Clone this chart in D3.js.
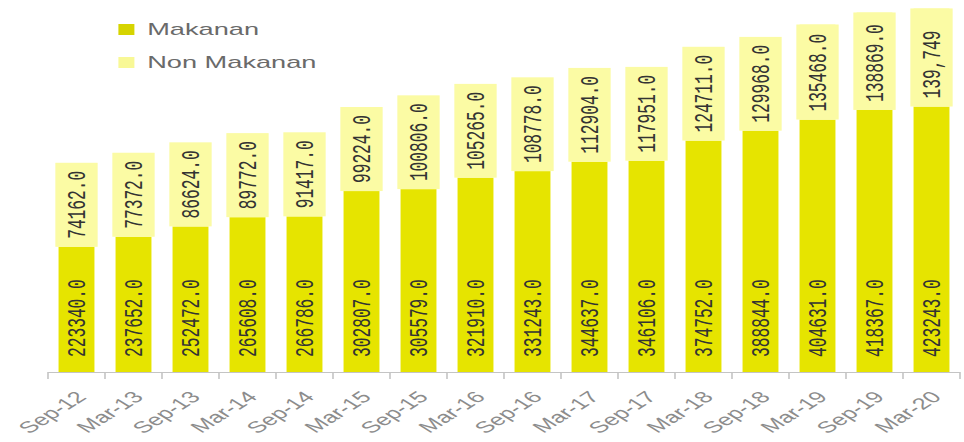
<!DOCTYPE html>
<html>
<head>
<meta charset="utf-8">
<script src="https://cdn.jsdelivr.net/npm/d3@7"></script>
<style>
  html, body { margin: 0; padding: 0; background: #ffffff; }
  svg { display: block; }
</style>
</head>
<body>
<svg id="chart" width="964" height="442"></svg>
<script>
// Periods (half-yearly)
const categories = ["Sep-12", "Mar-13", "Sep-13", "Mar-14", "Sep-14", "Mar-15", "Sep-15", "Mar-16",
                    "Sep-16", "Mar-17", "Sep-17", "Mar-18", "Sep-18", "Mar-19", "Sep-19", "Mar-20"];

// Food expenditure
const makanan = [223340, 237652, 252472, 265608, 266786, 302807, 305579, 321910,
                 331243, 344637, 346106, 374752, 388844, 404631, 418367, 423243];

// Non-food expenditure
const nonMakanan = [74162, 77372, 86624, 89772, 91417, 99224, 100806, 105265,
                    108778, 112904, 117951, 124711, 129968, 135468, 138869, 139749];

const seriesNames = ["Makanan", "Non Makanan"];

// The drawing is laid out in a narrower coordinate space and widened to the page.
const pageW = 964, pageH = 442, stretch = 1.6;
const W = pageW / stretch;

const svg = d3.select("#chart")
  .attr("viewBox", `0 0 ${W} ${pageH}`)
  .attr("preserveAspectRatio", "none");

const colDark = "#e6e400";
const colLight = "#fbfba4";

const x = d3.scaleBand()
  .domain(categories)
  .range([30, 600])
  .paddingInner(0.37)
  .paddingOuter(0.185);

const y = d3.scaleLinear()
  .domain([45000, 575000])
  .range([372, 0]);

const rows = categories.map((c, i) => ({
  cat: c,
  m: makanan[i],
  n: nonMakanan[i],
  nLabel: i === categories.length - 1 ? d3.format(",")(nonMakanan[i]) : d3.format(".1f")(nonMakanan[i]),
  mLabel: d3.format(".1f")(makanan[i])
}));

const stack = d3.stack().keys(["m", "n"])(rows);

// Stacked bars
svg.append("g").selectAll("g")
  .data(stack)
  .join("g")
  .attr("fill", (d, i) => i === 0 ? colDark : colLight)
  .selectAll("rect")
  .data(d => d)
  .join("rect")
  .attr("x", d => x(d.data.cat))
  .attr("width", x.bandwidth())
  .attr("y", d => y(d[1]))
  .attr("height", d => y(Math.max(d[0], y.domain()[0])) - y(d[1]));

// Axis line and boundary ticks
const step = x.step();
const x0 = x.range()[0];
const axis = svg.append("g").attr("stroke", "#c4c4c4").attr("stroke-width", 1);
axis.append("line")
  .attr("x1", x0).attr("x2", x.range()[1])
  .attr("y1", y.range()[0] + 0.5).attr("y2", y.range()[0] + 0.5);
axis.selectAll("line.tick")
  .data(d3.range(categories.length + 1))
  .join("line")
  .attr("class", "tick")
  .attr("x1", i => x0 + i * step).attr("x2", i => x0 + i * step)
  .attr("y1", y.range()[0]).attr("y2", y.range()[0] + 7);

// Category labels
svg.append("g").selectAll("text")
  .data(categories)
  .join("text")
  .attr("transform", d => `translate(${x(d) + x.bandwidth() / 2 + 3},${y.range()[0] + 22}) rotate(-45)`)
  .attr("text-anchor", "end")
  .attr("dy", "0.35em")
  .attr("font-family", "Liberation Sans, Arial, sans-serif")
  .attr("font-size", 16)
  .attr("fill", "#8c8c8c")
  .text(d => d);

// Value labels
const labelFont = "Liberation Mono, monospace";
const labelSize = 16.2;
const labelG = svg.append("g");

// Non Makanan labels: boxed, anchored at the base of the segment;
// the box covers the segment and the text, whichever is taller
const nl = labelG.selectAll("g.nl")
  .data(rows)
  .join("g")
  .attr("class", "nl");
nl.each(function(d) {
  const g = d3.select(this);
  const cx = x(d.cat) + x.bandwidth() / 2;
  const base = y(d.m);
  const top = y(d.m + d.n);
  const t = g.append("text")
    .attr("font-family", labelFont)
    .attr("font-size", labelSize)
    .attr("fill", "#333333")
    .attr("text-anchor", "start")
    .attr("dy", "0.33em")
    .attr("transform", `translate(${cx},${base - 8}) rotate(-90)`)
    .text(d.nLabel);
  const len = t.node().getComputedTextLength();
  const boxTop = Math.min(top, base - len - 16);
  g.insert("rect", "text")
    .attr("x", x(d.cat) - 2)
    .attr("width", x.bandwidth() + 4)
    .attr("y", boxTop)
    .attr("height", base - boxTop)
    .attr("fill", colLight);
});

// Makanan labels: inside the base of each bar
labelG.selectAll("text.ml")
  .data(rows)
  .join("text")
  .attr("class", "ml")
  .attr("font-family", labelFont)
  .attr("font-size", labelSize)
  .attr("fill", "#333333")
  .attr("text-anchor", "start")
  .attr("dy", "0.33em")
  .attr("transform", d => `translate(${x(d.cat) + x.bandwidth() / 2},${y.range()[0] - 15}) rotate(-90)`)
  .text(d => d.mLabel);

// Legend
const legend = svg.append("g");
const lg = legend.selectAll("g")
  .data(seriesNames)
  .join("g")
  .attr("transform", (d, i) => `translate(74,${24 + i * 33})`);
lg.append("rect")
  .attr("width", 10).attr("height", 11)
  .attr("fill", (d, i) => i === 0 ? "#d6d400" : "#f8f896");
lg.append("text")
  .attr("x", 18)
  .attr("y", 11)
  .attr("font-family", "Liberation Sans, Arial, sans-serif")
  .attr("font-size", 17)
  .attr("fill", "#6a6a6a")
  .text(d => d);
</script>
</body>
</html>
